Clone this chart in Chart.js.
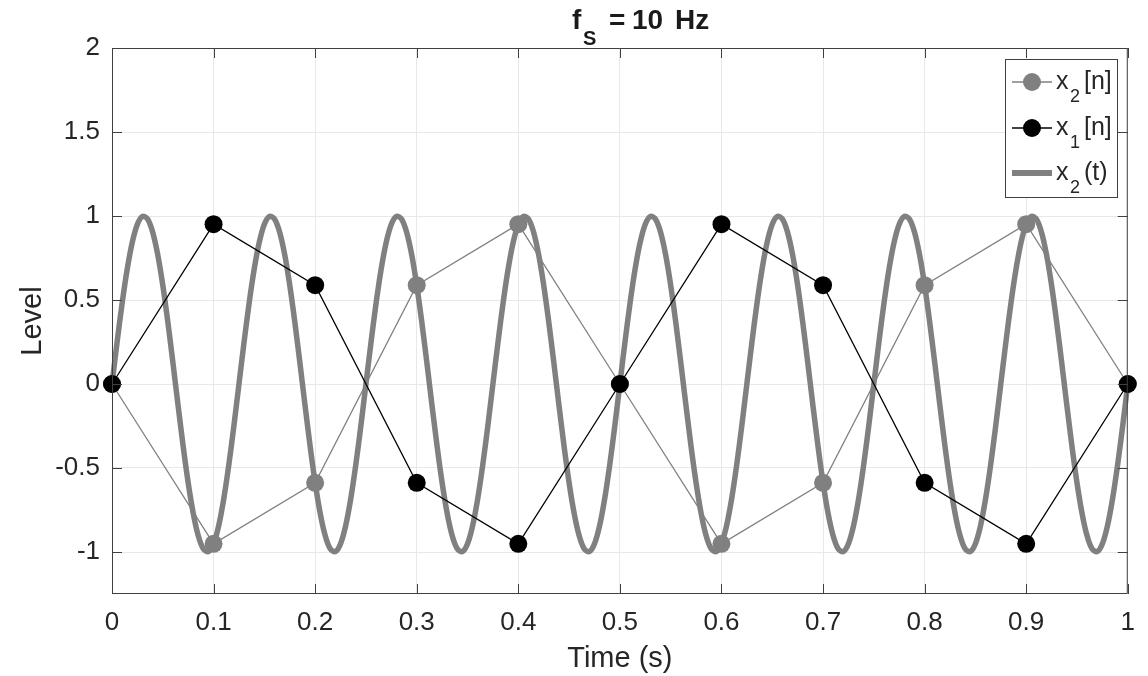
<!DOCTYPE html>
<html>
<head>
<meta charset="utf-8">
<script src="https://cdn.jsdelivr.net/npm/chart.js@4.4.1/dist/chart.umd.min.js"></script>
<style>
html,body{margin:0;padding:0;background:#fff;}
#wrap{width:1148px;height:676px;position:relative;}
</style>
</head>
<body>
<div id="wrap"><canvas id="c" width="1148" height="676"></canvas></div>
<script>
// ---- data ----
const sampleTimes = [0,0.1,0.2,0.3,0.4,0.5,0.6,0.7,0.8,0.9,1];
const x1n = [0,0.951,0.588,-0.588,-0.951,0,0.951,0.588,-0.588,-0.951,0];
const x2n = [0,-0.951,-0.588,0.588,0.951,0,-0.951,-0.588,0.588,0.951,0];
const contTimes = [
0,0.005,0.01,0.015,0.02,0.025,0.03,0.035,0.04,0.045,
0.05,0.055,0.06,0.065,0.07,0.075,0.08,0.085,0.09,0.095,
0.1,0.105,0.11,0.115,0.12,0.125,0.13,0.135,0.14,0.145,
0.15,0.155,0.16,0.165,0.17,0.175,0.18,0.185,0.19,0.195,
0.2,0.205,0.21,0.215,0.22,0.225,0.23,0.235,0.24,0.245,
0.25,0.255,0.26,0.265,0.27,0.275,0.28,0.285,0.29,0.295,
0.3,0.305,0.31,0.315,0.32,0.325,0.33,0.335,0.34,0.345,
0.35,0.355,0.36,0.365,0.37,0.375,0.38,0.385,0.39,0.395,
0.4,0.405,0.41,0.415,0.42,0.425,0.43,0.435,0.44,0.445,
0.45,0.455,0.46,0.465,0.47,0.475,0.48,0.485,0.49,0.495,
0.5,0.505,0.51,0.515,0.52,0.525,0.53,0.535,0.54,0.545,
0.55,0.555,0.56,0.565,0.57,0.575,0.58,0.585,0.59,0.595,
0.6,0.605,0.61,0.615,0.62,0.625,0.63,0.635,0.64,0.645,
0.65,0.655,0.66,0.665,0.67,0.675,0.68,0.685,0.69,0.695,
0.7,0.705,0.71,0.715,0.72,0.725,0.73,0.735,0.74,0.745,
0.75,0.755,0.76,0.765,0.77,0.775,0.78,0.785,0.79,0.795,
0.8,0.805,0.81,0.815,0.82,0.825,0.83,0.835,0.84,0.845,
0.85,0.855,0.86,0.865,0.87,0.875,0.88,0.885,0.89,0.895,
0.9,0.905,0.91,0.915,0.92,0.925,0.93,0.935,0.94,0.945,
0.95,0.955,0.96,0.965,0.97,0.975,0.98,0.985,0.99,0.995,
1];
const x2t = [
0,0.2487,0.4818,0.6845,0.8443,0.9511,0.998,0.9823,0.9048,0.7705,0.5878,0.3681,0.1253,-0.1253,-0.3681,-0.5878,-0.7705,-0.9048,-0.9823,-0.998,-0.9511,-0.8443,-0.6845,-0.4818,-0.2487,
0,0.2487,0.4818,0.6845,0.8443,0.9511,0.998,0.9823,0.9048,0.7705,0.5878,0.3681,0.1253,-0.1253,-0.3681,-0.5878,-0.7705,-0.9048,-0.9823,-0.998,-0.9511,-0.8443,-0.6845,-0.4818,-0.2487,
0,0.2487,0.4818,0.6845,0.8443,0.9511,0.998,0.9823,0.9048,0.7705,0.5878,0.3681,0.1253,-0.1253,-0.3681,-0.5878,-0.7705,-0.9048,-0.9823,-0.998,-0.9511,-0.8443,-0.6845,-0.4818,-0.2487,
0,0.2487,0.4818,0.6845,0.8443,0.9511,0.998,0.9823,0.9048,0.7705,0.5878,0.3681,0.1253,-0.1253,-0.3681,-0.5878,-0.7705,-0.9048,-0.9823,-0.998,-0.9511,-0.8443,-0.6845,-0.4818,-0.2487,
0,0.2487,0.4818,0.6845,0.8443,0.9511,0.998,0.9823,0.9048,0.7705,0.5878,0.3681,0.1253,-0.1253,-0.3681,-0.5878,-0.7705,-0.9048,-0.9823,-0.998,-0.9511,-0.8443,-0.6845,-0.4818,-0.2487,
0,0.2487,0.4818,0.6845,0.8443,0.9511,0.998,0.9823,0.9048,0.7705,0.5878,0.3681,0.1253,-0.1253,-0.3681,-0.5878,-0.7705,-0.9048,-0.9823,-0.998,-0.9511,-0.8443,-0.6845,-0.4818,-0.2487,
0,0.2487,0.4818,0.6845,0.8443,0.9511,0.998,0.9823,0.9048,0.7705,0.5878,0.3681,0.1253,-0.1253,-0.3681,-0.5878,-0.7705,-0.9048,-0.9823,-0.998,-0.9511,-0.8443,-0.6845,-0.4818,-0.2487,
0,0.2487,0.4818,0.6845,0.8443,0.9511,0.998,0.9823,0.9048,0.7705,0.5878,0.3681,0.1253,-0.1253,-0.3681,-0.5878,-0.7705,-0.9048,-0.9823,-0.998,-0.9511,-0.8443,-0.6845,-0.4818,-0.2487,
0];
const xTicks = [0,0.1,0.2,0.3,0.4,0.5,0.6,0.7,0.8,0.9,1];
const yTicks = [-1,-0.5,0,0.5,1,1.5,2];

// ---- styling ----
const GRAY = '#808080';
const BLACK = '#000000';
const AXIS = '#404040';
const FONT = '"Liberation Sans", Arial, Helvetica, sans-serif';

function pts(xs, ys){ return xs.map((x,i)=>({x:x, y:ys[i]})); }

const decor = {
  id:'decor',
  afterDatasetsDraw(chart){
    const ctx = chart.ctx, a = chart.chartArea;
    const xs = chart.scales.x, ys = chart.scales.y;
    ctx.save();
    ctx.strokeStyle = AXIS; ctx.lineWidth = 1;
    ctx.beginPath();
    ctx.rect(a.left+0.5, a.top+0.5, a.right-a.left-1, a.bottom-a.top-1);
    ctx.stroke();
    const tl = 10;
    ctx.beginPath();
    xTicks.forEach(v=>{
      const px = Math.round(xs.getPixelForValue(v))+0.5;
      ctx.moveTo(px, a.bottom); ctx.lineTo(px, a.bottom-tl);
      ctx.moveTo(px, a.top); ctx.lineTo(px, a.top+tl);
    });
    yTicks.forEach(v=>{
      const py = Math.round(ys.getPixelForValue(v))+0.5;
      ctx.moveTo(a.left, py); ctx.lineTo(a.left+tl, py);
      ctx.moveTo(a.right, py); ctx.lineTo(a.right-tl, py);
    });
    ctx.stroke();
    ctx.restore();
  },
  afterDraw(chart){
    const ctx = chart.ctx, a = chart.chartArea;
    ctx.save();
    ctx.fillStyle = '#1a1a1a';
    ctx.textBaseline = 'alphabetic';
    ctx.textAlign = 'left';
    // title
    ctx.font = 'bold 28px ' + FONT;
    ctx.fillText('f', 572, 29);
    ctx.font = 'bold 20px ' + FONT;
    ctx.fillText('S', 583, 45);
    ctx.font = 'bold 28px ' + FONT;
    ctx.fillText('=', 609, 29);
    ctx.fillText('10', 632, 29);
    ctx.fillText('Hz', 675, 29);
    // axis titles
    ctx.fillStyle = '#262626';
    ctx.font = '29px ' + FONT;
    ctx.textAlign = 'center';
    ctx.fillText('Time (s)', (a.left+a.right)/2, 667);
    ctx.save();
    ctx.translate(41, (a.top+a.bottom)/2);
    ctx.rotate(-Math.PI/2);
    ctx.fillText('Level', 0, 0);
    ctx.restore();
    // legend
    const L = 1005, T = 59, R = 1118, B = 198;
    ctx.fillStyle = '#fff';
    ctx.fillRect(L, T, R-L, B-T);
    ctx.strokeStyle = AXIS; ctx.lineWidth = 1;
    ctx.strokeRect(L+0.5, T+0.5, R-L-1, B-T-1);
    const rows = [
      {y:82, color:GRAY, lw:1.5, marker:true, sub:'2', tail:'[n]'},
      {y:128, color:BLACK, lw:1.5, marker:true, sub:'1', tail:'[n]'},
      {y:173, color:GRAY, lw:6, marker:false, sub:'2', tail:'(t)'}
    ];
    rows.forEach(r=>{
      ctx.strokeStyle = r.color; ctx.lineWidth = r.lw;
      ctx.beginPath(); ctx.moveTo(1012, r.y); ctx.lineTo(1052, r.y); ctx.stroke();
      if (r.marker){
        ctx.fillStyle = r.color;
        ctx.beginPath(); ctx.arc(1032, r.y, 9, 0, Math.PI*2); ctx.fill();
      }
      ctx.fillStyle = '#262626';
      ctx.textAlign = 'left';
      ctx.font = '25px ' + FONT;
      ctx.fillText('x', 1056, r.y+7);
      ctx.font = '18px ' + FONT;
      ctx.fillText(r.sub, 1070, r.y+20);
      ctx.font = '25px ' + FONT;
      ctx.fillText(r.tail, 1084, r.y+7);
    });
    ctx.restore();
  }
};

new Chart(document.getElementById('c'), {
  type:'scatter',
  data:{
    datasets:[
      {label:'x1[n]', data:pts(sampleTimes, x1n), showLine:true, borderColor:BLACK, backgroundColor:BLACK,
       borderWidth:1.3, pointRadius:9, pointHoverRadius:9, pointBorderWidth:0, clip:false, order:1},
      {label:'x2[n]', data:pts(sampleTimes, x2n), showLine:true, borderColor:GRAY, backgroundColor:GRAY,
       borderWidth:1.3, pointRadius:9, pointHoverRadius:9, pointBorderWidth:0, clip:false, order:2},
      {label:'x2(t)', data:pts(contTimes, x2t), showLine:true, borderColor:GRAY, backgroundColor:GRAY,
       borderWidth:5.5, pointRadius:0, tension:0.3, clip:false, order:3}
    ]
  },
  options:{
    responsive:false, animation:false, devicePixelRatio:1,
    layout:{padding:{left:0, right:18, top:48, bottom:0}},
    plugins:{legend:{display:false}, tooltip:{enabled:false}, title:{display:false}},
    scales:{
      x:{type:'linear', min:0, max:1,
         afterBuildTicks(s){ s.ticks = xTicks.map(v=>({value:v})); },
         afterFit(s){ s.height = 676-594; },
         grid:{color:'#e8e8e8', drawTicks:false, lineWidth:1},
         border:{display:false},
         ticks:{padding:13, color:'#262626', font:{family:FONT, size:26}, maxRotation:0, callback:v=>String(v)}
      },
      y:{type:'linear', min:-1.25, max:2,
         afterBuildTicks(s){ s.ticks = yTicks.map(v=>({value:v})); },
         afterFit(s){ s.width = 112; },
         grid:{color:'#e8e8e8', drawTicks:false, lineWidth:1},
         border:{display:false},
         ticks:{padding:12, color:'#262626', font:{family:FONT, size:26}, callback:v=>String(v)}
      }
    }
  },
  plugins:[decor]
});
</script>
</body>
</html>
